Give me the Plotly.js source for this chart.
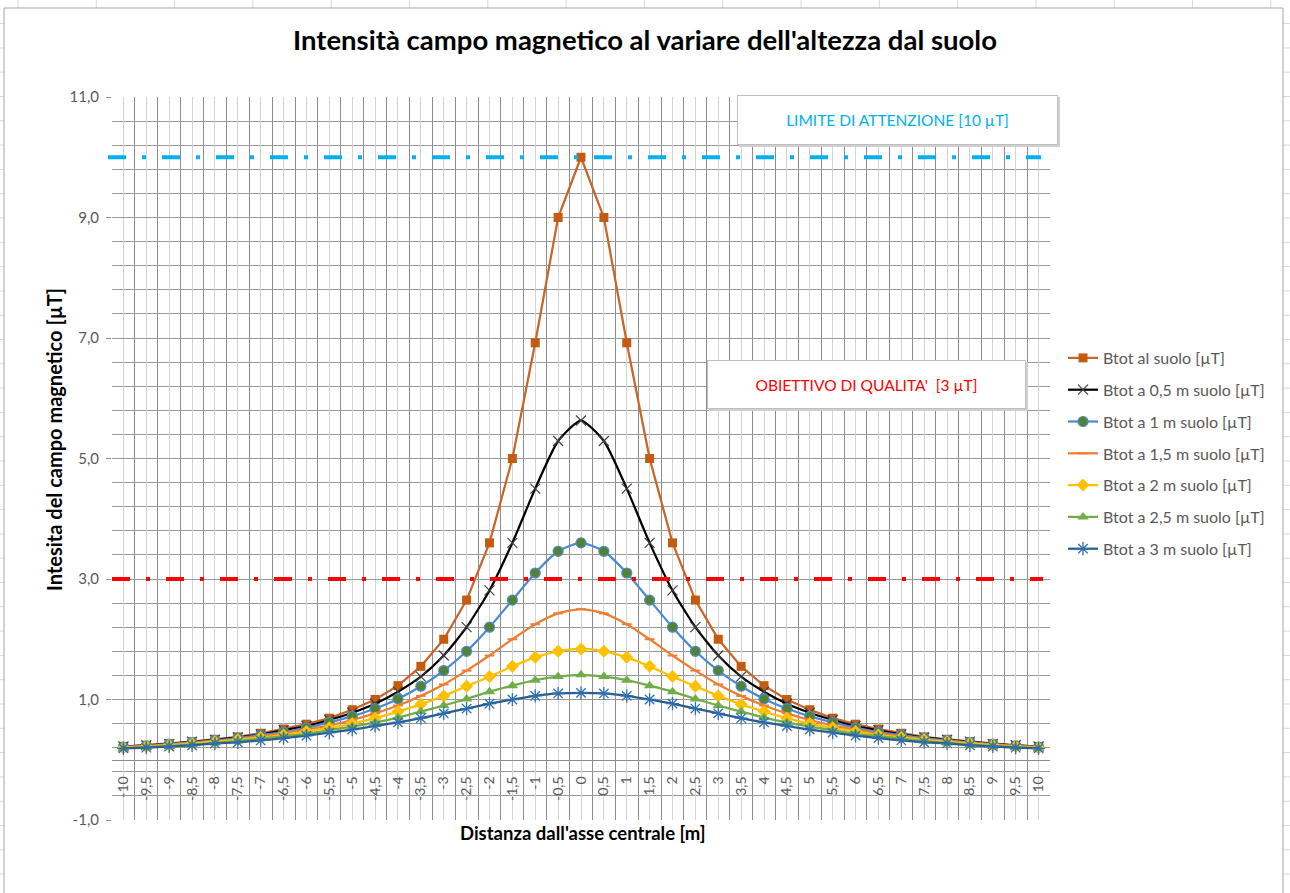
<!DOCTYPE html>
<html><head><meta charset="utf-8">
<script src="https://cdn.plot.ly/plotly-3.0.1.min.js"></script>
<style>html,body{margin:0;padding:0;background:#fff;} #chart{width:1290px;height:893px;}</style>
</head><body><div id="chart"></div>
<script>
// Distance from central axis [m]
const xValues = [-10,-9.5,-9,-8.5,-8,-7.5,-7,-6.5,-6,-5.5,-5,-4.5,-4,-3.5,-3,-2.5,-2,-1.5,-1,-0.5,0,0.5,1,1.5,2,2.5,3,3.5,4,4.5,5,5.5,6,6.5,7,7.5,8,8.5,9,9.5,10];
const xLabels = ["-10","-9,5","-9","-8,5","-8","-7,5","-7","-6,5","-6","-5,5","-5","-4,5","-4","-3,5","-3","-2,5","-2","-1,5","-1","-0,5","0","0,5","1","1,5","2","2,5","3","3,5","4","4,5","5","5,5","6","6,5","7","7,5","8","8,5","9","9,5","10"];
const yTickVals = [-1,1,3,5,7,9,11];
const yTickText = ["-1,0","1,0","3,0","5,0","7,0","9,0","11,0"];

const seriesNames = ["Btot al suolo [µT]","Btot a 0,5 m suolo [µT]","Btot a 1 m suolo [µT]","Btot a 1,5 m suolo [µT]","Btot a 2 m suolo [µT]","Btot a 2,5 m suolo [µT]","Btot a 3 m suolo [µT]"];

const bSuolo = [0.22,0.24,0.27,0.30,0.34,0.38,0.44,0.51,0.59,0.69,0.83,1.00,1.23,1.55,2.00,2.65,3.60,5.00,6.92,9.00,10.00,9.00,6.92,5.00,3.60,2.65,2.00,1.55,1.23,1.00,0.83,0.69,0.59,0.51,0.44,0.38,0.34,0.30,0.27,0.24,0.22];
const b05 = [0.22,0.24,0.26,0.30,0.33,0.37,0.42,0.49,0.56,0.66,0.78,0.93,1.13,1.38,1.73,2.20,2.81,3.60,4.50,5.29,5.63,5.29,4.50,3.60,2.81,2.20,1.73,1.38,1.13,0.93,0.78,0.66,0.56,0.49,0.42,0.37,0.33,0.30,0.26,0.24,0.22];
const b1 = [0.21,0.23,0.26,0.29,0.32,0.36,0.41,0.46,0.53,0.62,0.72,0.85,1.01,1.22,1.48,1.80,2.20,2.65,3.10,3.46,3.60,3.46,3.10,2.65,2.20,1.80,1.48,1.22,1.01,0.85,0.72,0.62,0.53,0.46,0.41,0.36,0.32,0.29,0.26,0.23,0.21];
const b15 = [0.21,0.23,0.25,0.28,0.31,0.34,0.39,0.44,0.50,0.57,0.66,0.77,0.90,1.06,1.25,1.48,1.73,2.00,2.25,2.43,2.50,2.43,2.25,2.00,1.73,1.48,1.25,1.06,0.90,0.77,0.66,0.57,0.50,0.44,0.39,0.34,0.31,0.28,0.25,0.23,0.21];
const b2 = [0.20,0.22,0.24,0.27,0.30,0.33,0.37,0.41,0.47,0.53,0.60,0.69,0.80,0.92,1.06,1.22,1.38,1.55,1.70,1.80,1.84,1.80,1.70,1.55,1.38,1.22,1.06,0.92,0.80,0.69,0.60,0.53,0.47,0.41,0.37,0.33,0.30,0.27,0.24,0.22,0.20];
const b25 = [0.19,0.21,0.23,0.25,0.28,0.31,0.35,0.39,0.43,0.49,0.55,0.62,0.70,0.80,0.90,1.01,1.13,1.23,1.32,1.38,1.41,1.38,1.32,1.23,1.13,1.01,0.90,0.80,0.70,0.62,0.55,0.49,0.43,0.39,0.35,0.31,0.28,0.25,0.23,0.21,0.19];
const b3 = [0.19,0.20,0.22,0.24,0.27,0.29,0.32,0.36,0.40,0.45,0.50,0.56,0.62,0.69,0.77,0.85,0.93,1.00,1.06,1.10,1.11,1.10,1.06,1.00,0.93,0.85,0.77,0.69,0.62,0.56,0.50,0.45,0.40,0.36,0.32,0.29,0.27,0.24,0.22,0.20,0.19];

const limitAttention = 10;   // µT
const qualityTarget = 3;     // µT

const FONT = 'Lato, "Open Sans", sans-serif';

function tr(name, y, lineColor, shape, sym, mColor, mLine, mSize, mLineW){
  return {
    type:'scatter', mode:'lines+markers', name:name, x:xValues, y:y,
    legendgroup:name,
    line:{color:lineColor, width:2.25, shape:shape, smoothing:0.6},
    marker:{symbol:sym, color:mColor, size:mSize, line:{color:mLine, width:mLineW}},
    hoverinfo:'x+y+name'
  };
}

const data = [
  tr(seriesNames[0], bSuolo, '#c8652a', 'linear', 'square', '#c55a11', '#c55a11', 9, 0),
  tr(seriesNames[1], b05, '#000000', 'spline', 'x-thin-open', '#404040', '#404040', 10, 1.2),
  tr(seriesNames[2], b1, '#4a8bd0', 'spline', 'circle', '#548235', '#4a8bd0', 10, 1.2),
  tr(seriesNames[3], b15, '#ed7d31', 'spline', 'line-ew-open', '#ed7d31', '#ed7d31', 7, 2),
  tr(seriesNames[4], b2, '#ffc000', 'spline', 'diamond', '#ffc000', '#ffc000', 10, 0),
  tr(seriesNames[5], b25, '#70ad47', 'spline', 'triangle-up', '#70ad47', '#70ad47', 10, 0),
  tr(seriesNames[6], b3, '#255e91', 'spline', 'asterisk-open', '#2f6eb0', '#2f6eb0', 11, 1.3)
];

const L = 112, R = 1050, T = 97, B = 820, W = 1290, H = 893;
const pw = R - L, ph = B - T;
const px = v => (v - L) / pw;
const py = v => (B - v) / ph;

// faint spreadsheet cell lines around the chart object
const sheetShapes = [];
for (let k = 0; k < 17; k++) {
  const cx = 18 + 78.3 * k;
  sheetShapes.push({type:'line', xref:'paper', yref:'paper', x0:px(cx), x1:px(cx), y0:py(0), y1:py(8),
    line:{color:'#d9d9d9', width:1}, layer:'below'});
}
for (let k = 0; k < 37; k++) {
  const ry = 23.6 + 24.3 * k;
  sheetShapes.push({type:'line', xref:'paper', yref:'paper', x0:px(0), x1:px(4), y0:py(ry), y1:py(ry),
    line:{color:'#d9d9d9', width:1}, layer:'below'});
  sheetShapes.push({type:'line', xref:'paper', yref:'paper', x0:px(1283), x1:px(1290), y0:py(ry), y1:py(ry),
    line:{color:'#d9d9d9', width:1}, layer:'below'});
}

const layout = {
  width: W, height: H,
  margin:{l:L, r:W-R, t:T, b:H-B, pad:0},
  paper_bgcolor:'#ffffff', plot_bgcolor:'#ffffff',
  separators:', ',
  font:{family:FONT, size:14, color:'#595959'},
  title:{text:"Intensità campo magnetico al variare dell'altezza dal suolo",
    font:{family:FONT, size:27.5, color:'#000000', weight:'bold'},
    xref:'container', x:0.5, xanchor:'center', yref:'container', y:1-40/H, yanchor:'middle'},
  xaxis:{
    type:'linear', range:[-10.25,10.25], anchor:'free', position:1/12,
    tickmode:'array', tickvals:xValues, ticktext:xLabels, tickangle:-90,
    ticks:'', ticklabelstandoff:10,
    tickfont:{family:FONT, size:14, color:'#595959'},
    showgrid:true, gridcolor:'#d4d4d4', gridwidth:1,
    minor:{tickmode:'linear', tick0:-10.25, dtick:0.5, showgrid:true, gridcolor:'#8c8c8c', gridwidth:1, ticks:''},
    showline:true, linecolor:'#8c8c8c', linewidth:1,
    zeroline:false, automargin:false, fixedrange:true
  },
  yaxis:{
    range:[-1,11], tickmode:'array', tickvals:yTickVals, ticktext:yTickText,
    ticks:'outside', ticklen:5, tickcolor:'#8c8c8c', tickwidth:1, ticklabelstandoff:4,
    tickfont:{family:FONT, size:15, color:'#595959'},
    showgrid:true, gridcolor:'#999999', gridwidth:1,
    minor:{tickmode:'linear', tick0:-1, dtick:0.4, showgrid:true, gridcolor:'#999999', gridwidth:1, ticks:''},
    showline:false, zeroline:false, automargin:false, fixedrange:true
  },
  showlegend:true,
  legend:{x:px(1063), y:py(341), xanchor:'left', yanchor:'top',
    font:{family:FONT, size:16, color:'#595959'}, tracegroupgap:8,
    itemwidth:30, bgcolor:'rgba(0,0,0,0)', traceorder:'grouped'},
  shapes: sheetShapes.concat([
    // chart area border
    {type:'rect', xref:'paper', yref:'paper', x0:px(4), x1:px(1283), y0:py(895), y1:py(8),
      line:{color:'#a6a6a6', width:1}, fillcolor:'rgba(0,0,0,0)', layer:'below'},
    // reference lines
    {type:'line', xref:'paper', yref:'y', x0:px(108), x1:px(1041), y0:limitAttention, y1:limitAttention,
      line:{color:'#00b0f0', width:4, dash:'18px,16px,4px,16px'}, layer:'above'},
    {type:'line', xref:'paper', yref:'y', x0:px(112), x1:px(1043), y0:qualityTarget, y1:qualityTarget,
      line:{color:'#ff0000', width:4, dash:'18px,16px,4px,16px'}, layer:'above'},
    // text box shadows
    {type:'rect', xref:'paper', yref:'paper', x0:px(739), x1:px(1060), y0:py(147), y1:py(97),
      line:{width:0}, fillcolor:'#d0d0d0', layer:'above'},
    {type:'rect', xref:'paper', yref:'paper', x0:px(709), x1:px(1028), y0:py(411), y1:py(362),
      line:{width:0}, fillcolor:'#d0d0d0', layer:'above'}
  ]),
  annotations:[
    {text:'Intesita del campo magnetico [µT]', xref:'paper', yref:'paper', x:px(54), y:py(440),
      xanchor:'center', yanchor:'middle', textangle:-90, showarrow:false,
      font:{family:FONT, size:20, color:'#000000', weight:'bold'}},
    {text:"Distanza dall'asse centrale [m]", xref:'paper', yref:'paper', x:px(583), y:py(833),
      xanchor:'center', yanchor:'middle', showarrow:false,
      font:{family:FONT, size:18.5, color:'#000000', weight:'bold'}},
    {text:'LIMITE DI ATTENZIONE [10 µT]', xref:'paper', yref:'paper', x:px(897.5), y:py(120),
      xanchor:'center', yanchor:'middle', showarrow:false, width:319, height:48,
      bgcolor:'#ffffff', bordercolor:'#bfbfbf', borderwidth:1, borderpad:0,
      font:{family:FONT, size:15.5, color:'#00b0f0'}},
    {text:"OBIETTIVO DI QUALITA'&nbsp; [3 µT]", xref:'paper', yref:'paper', x:px(866.5), y:py(384.5),
      xanchor:'center', yanchor:'middle', showarrow:false, width:317, height:47,
      bgcolor:'#ffffff', bordercolor:'#bfbfbf', borderwidth:1, borderpad:0,
      font:{family:FONT, size:15.5, color:'#ff0000'}}
  ]
};

Plotly.newPlot('chart', data, layout, {displayModeBar:false, staticPlot:true});
</script>
</body></html>
